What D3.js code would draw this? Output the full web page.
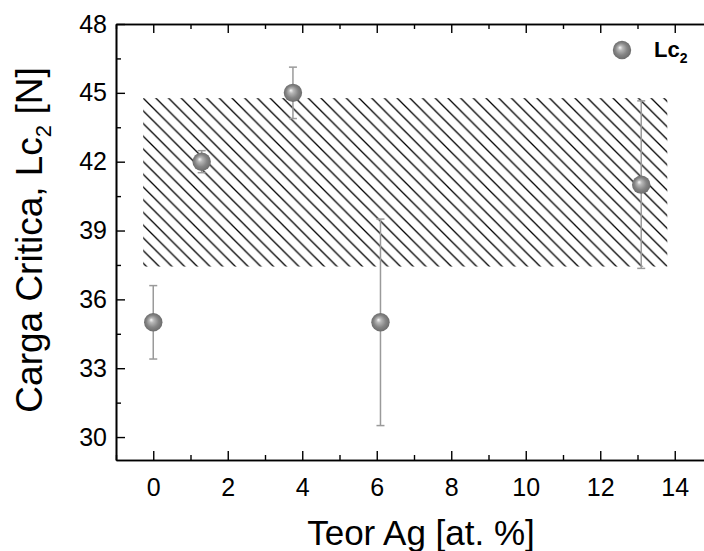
<!DOCTYPE html>
<html>
<head>
<meta charset="utf-8">
<script src="https://cdn.jsdelivr.net/npm/d3@7"></script>
<style>
  body { margin: 0; background: #fff; }
  text { font-family: "Liberation Sans", Arial, sans-serif; }
</style>
</head>
<body>
<div id="chart"></div>
<script>
// data
var agContent = [0, 1.3, 3.75, 6.1, 13.1];
var lc2 = [35, 42, 45, 35, 41];
var lc2Err = [1.6, 0.48, 1.12, 4.5, 3.65];

// hatched band (x from / to, y from / to)
var bandX = [-0.27, 13.8];
var bandY = [37.43, 44.77];

var xMajor = [0, 2, 4, 6, 8, 10, 12, 14];
var xMinor = [-1, 1, 3, 5, 7, 9, 11, 13, 15];
var yMajor = [30, 33, 36, 39, 42, 45, 48];
var yMinor = [31.5, 34.5, 37.5, 40.5, 43.5, 46.5];

var svgWidth = 704;
var svgHeight = 551;

var margin = { top: 24, left: 116, bottom: 91, right: -8 };
var width = svgWidth - margin.left - margin.right;
var height = svgHeight - margin.top - margin.bottom;

var svg = d3.select("#chart")
  .append("svg")
  .attr("width", svgWidth)
  .attr("height", svgHeight);

var defs = svg.append("defs");

// sphere look for the markers
var grad = defs.append("radialGradient")
  .attr("id", "ball")
  .attr("cx", "0.5").attr("cy", "0.5").attr("r", "0.5")
  .attr("fx", "0.38").attr("fy", "0.36");
grad.append("stop").attr("offset", "0%").attr("stop-color", "#f8f8f8");
grad.append("stop").attr("offset", "25%").attr("stop-color", "#b8b8b8");
grad.append("stop").attr("offset", "65%").attr("stop-color", "#858585");
grad.append("stop").attr("offset", "100%").attr("stop-color", "#6c6c6c");

var chartGroup = svg.append("g")
  .attr("transform", `translate(${margin.left}, ${margin.top})`);

var xScale = d3.scaleLinear().domain([-1, 15]).range([0, width]);
var yScale = d3.scaleLinear().domain([29, 48]).range([height, 0]);

// hatch pattern, anchored at the band corner
var step = 12.7;
var pat = defs.append("pattern")
  .attr("id", "hatch")
  .attr("patternUnits", "userSpaceOnUse")
  .attr("x", xScale(bandX[0]))
  .attr("y", yScale(bandY[1]))
  .attr("width", step)
  .attr("height", step);
pat.append("path")
  .attr("d", `M0,0L${step},${step}M${-step / 2},${step / 2}L${step / 2},${step * 1.5}M${step / 2},${-step / 2}L${step * 1.5},${step / 2}`)
  .attr("stroke", "#000")
  .attr("stroke-width", 1.3);

chartGroup.append("rect")
  .attr("x", xScale(bandX[0]))
  .attr("y", yScale(bandY[1]))
  .attr("width", xScale(bandX[1]) - xScale(bandX[0]))
  .attr("height", yScale(bandY[0]) - yScale(bandY[1]))
  .attr("fill", "url(#hatch)");

// axes, ticks point inward
function styleAxis(g) {
  g.select(".domain").attr("stroke", "#000").attr("stroke-width", 1.6);
  g.selectAll(".tick line").attr("stroke", "#000").attr("stroke-width", 1.4);
  g.selectAll("text").attr("font-size", 25).attr("fill", "#000");
}

chartGroup.append("g")
  .attr("transform", `translate(0, ${height})`)
  .call(d3.axisBottom(xScale).tickValues(xMajor).tickSize(-9).tickPadding(18).tickSizeOuter(0))
  .call(styleAxis);
chartGroup.append("g")
  .attr("transform", `translate(0, ${height})`)
  .call(d3.axisBottom(xScale).tickValues(xMinor).tickSize(-5).tickFormat("").tickSizeOuter(0))
  .call(styleAxis);

chartGroup.append("g")
  .call(d3.axisTop(xScale).tickValues(xMajor).tickSize(-9).tickFormat("").tickSizeOuter(0))
  .call(styleAxis);
chartGroup.append("g")
  .call(d3.axisTop(xScale).tickValues(xMinor).tickSize(-5).tickFormat("").tickSizeOuter(0))
  .call(styleAxis);

chartGroup.append("g")
  .call(d3.axisLeft(yScale).tickValues(yMajor).tickSize(-9).tickPadding(9).tickSizeOuter(0))
  .call(styleAxis);
chartGroup.append("g")
  .call(d3.axisLeft(yScale).tickValues(yMinor).tickSize(-5).tickFormat("").tickSizeOuter(0))
  .call(styleAxis);

// error bars
var pts = agContent.map(function(d, i) {
  return { x: d, y: lc2[i], e: lc2Err[i] };
});

var bars = chartGroup.selectAll(".err")
  .data(pts)
  .enter()
  .append("g")
  .attr("class", "err")
  .attr("stroke", "#9a9a9a")
  .attr("stroke-width", 1.5);

bars.append("line")
  .attr("x1", d => xScale(d.x)).attr("x2", d => xScale(d.x))
  .attr("y1", d => yScale(d.y - d.e)).attr("y2", d => yScale(d.y + d.e));
bars.append("line")
  .attr("x1", d => xScale(d.x) - 4).attr("x2", d => xScale(d.x) + 4)
  .attr("y1", d => yScale(d.y + d.e)).attr("y2", d => yScale(d.y + d.e));
bars.append("line")
  .attr("x1", d => xScale(d.x) - 4).attr("x2", d => xScale(d.x) + 4)
  .attr("y1", d => yScale(d.y - d.e)).attr("y2", d => yScale(d.y - d.e));

// points
chartGroup.selectAll(".pt")
  .data(pts)
  .enter()
  .append("circle")
  .attr("class", "pt")
  .attr("cx", d => xScale(d.x))
  .attr("cy", d => yScale(d.y))
  .attr("r", 9.2)
  .attr("fill", "url(#ball)");

// legend
svg.append("circle")
  .attr("cx", 622).attr("cy", 50).attr("r", 9.2)
  .attr("fill", "url(#ball)");
var leg = svg.append("text")
  .attr("x", 654).attr("y", 57)
  .attr("font-size", 22)
  .attr("font-weight", "bold");
leg.append("tspan").text("Lc");
leg.append("tspan").attr("font-size", 14).attr("dy", 6).text("2");

// axis titles
svg.append("text")
  .attr("x", 421).attr("y", 545)
  .attr("text-anchor", "middle")
  .attr("font-size", 35)
  .text("Teor Ag [at. %]");

var yTitle = svg.append("text")
  .attr("transform", `translate(42, 240) rotate(-90)`)
  .attr("text-anchor", "middle")
  .attr("font-size", 37);
yTitle.append("tspan").text("Carga Critica, Lc");
yTitle.append("tspan").attr("font-size", 22).attr("dy", 9).text("2");
yTitle.append("tspan").attr("dy", -9).text(" [N]");
</script>
</body>
</html>
